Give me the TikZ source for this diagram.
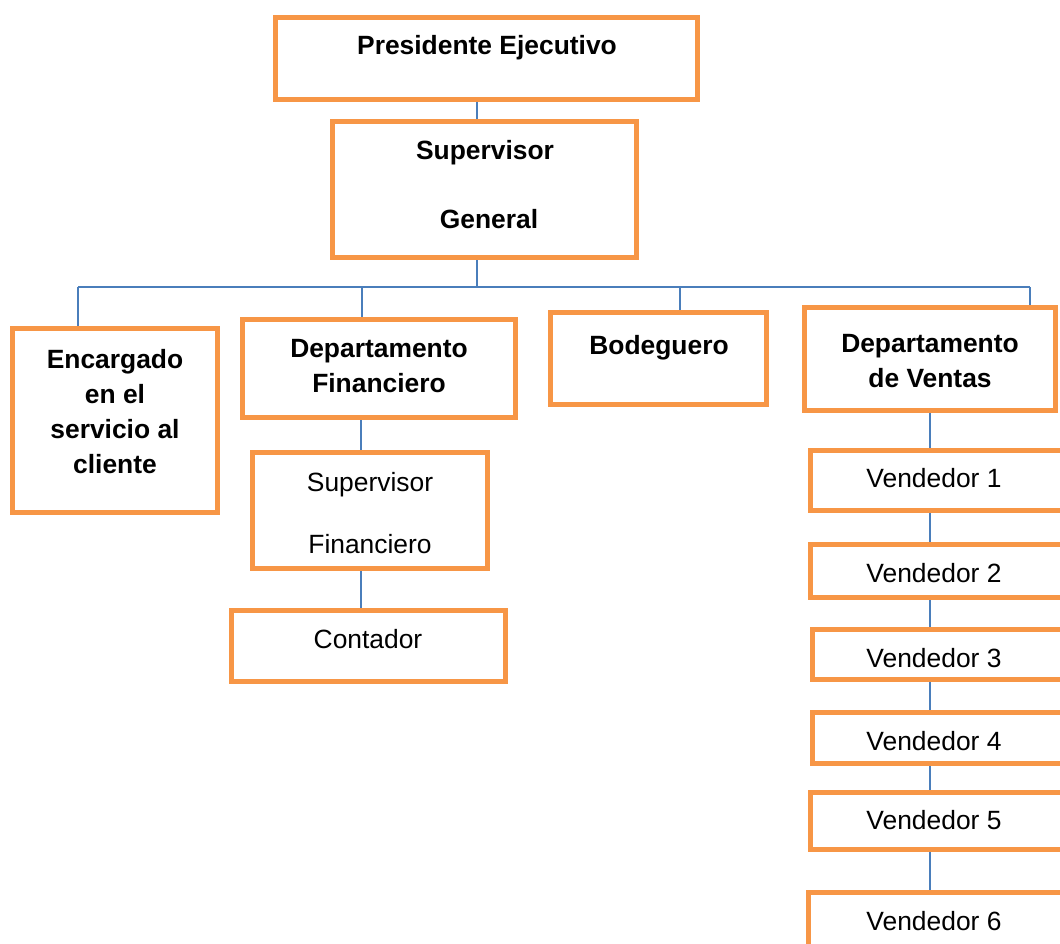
\documentclass[tikz,border=0pt]{standalone}
\usepackage{fontspec}
\setmainfont{Liberation Sans}
\definecolor{boxorange}{RGB}{247,150,70}
\definecolor{linkblue}{RGB}{74,126,187}
\tikzset{
  box/.style={draw=boxorange,line width=5pt,fill=white,rectangle},
  hd/.style={anchor=base,align=center,inner sep=0pt,font=\fontsize{26.4}{35}\selectfont\bfseries},
  tx/.style={anchor=base,align=center,inner sep=0pt,font=\fontsize{26.4}{35}\selectfont},
  link/.style={draw=linkblue,line width=1.5pt}
}
\begin{document}
\begin{tikzpicture}[x=1pt,y=-1pt]
\useasboundingbox (0,0) rectangle (1060,944);
\clip (0,0) rectangle (1060,944);
\node[box,minimum width=422pt,minimum height=82pt] (pres) at (486.5,58.5) {};
\node[box,minimum width=304pt,minimum height=136pt] (supgen) at (484.5,189.5) {};
\node[box,minimum width=205pt,minimum height=184pt] (enc) at (115,420.5) {};
\node[box,minimum width=273pt,minimum height=98pt] (dfin) at (379,368.5) {};
\node[box,minimum width=216pt,minimum height=92pt] (bod) at (658.5,358.5) {};
\node[box,minimum width=251pt,minimum height=103pt] (dven) at (930,359) {};
\node[box,minimum width=235pt,minimum height=116pt] (supfin) at (370,510.5) {};
\node[box,minimum width=274pt,minimum height=71pt] (cont) at (368.5,646) {};
\node[box,minimum width=255pt,minimum height=60pt] (v1) at (938,480.5) {};
\node[box,minimum width=255pt,minimum height=53pt] (v2) at (938,571) {};
\node[box,minimum width=253pt,minimum height=50pt] (v3) at (939,654.5) {};
\node[box,minimum width=253pt,minimum height=51pt] (v4) at (939,738) {};
\node[box,minimum width=255pt,minimum height=57pt] (v5) at (938,821) {};
\node[box,minimum width=257pt,minimum height=65pt] (v6) at (937,925) {};

% multi-line labels sit on the baseline of their last line
\node[hd] (pres-t) at (487,55) {Presidente Ejecutivo};
\node[hd] (supgen-t1) at (485,160) {Supervisor};
\node[hd] (supgen-t2) at (489,229) {General};
\node[hd] (enc-t) at (115,473) {Encargado\\en el\\servicio al\\cliente};
\node[hd] (dfin-t) at (379,392) {Departamento\\Financiero};
\node[hd] (bod-t) at (659,354) {Bodeguero};
\node[hd] (dven-t) at (930,387) {Departamento\\de Ventas};
\node[tx] (supfin-t1) at (370,491) {Supervisor};
\node[tx] (supfin-t2) at (370,553) {Financiero};
\node[tx] (cont-t) at (368,648) {Contador};
\foreach \n/\y in {1/487,2/582,3/667,4/750,5/829,6/930}
  \node[tx] (v\n-t) at (934,\y) {Vendedor \n};

\coordinate (b0) at (477,287);
\coordinate (b1) at (78,287);
\coordinate (b2) at (362,287);
\coordinate (b3) at (680,287);
\coordinate (b4) at (1030,287);
\coordinate (pf) at (361,0);
\coordinate (pv) at (930,0);
\draw[link] (pres.south -| b0) -- (supgen.north -| b0);
\draw[link] (supgen.south -| b0) -- (b0);
\draw[link] (b1) -- (b4);
\draw[link] (b1) -- (b1 |- enc.north);
\draw[link] (b2) -- (b2 |- dfin.north);
\draw[link] (b3) -- (b3 |- bod.north);
\draw[link] (b4) -- (b4 |- dven.north);
\draw[link] (dfin.south -| pf) -- (supfin.north -| pf);
\draw[link] (supfin.south -| pf) -- (cont.north -| pf);
\draw[link] (dven.south -| pv) -- (v1.north -| pv);
\foreach \a/\b in {v1/v2,v2/v3,v3/v4,v4/v5,v5/v6}
  \draw[link] (\a.south -| pv) -- (\b.north -| pv);
\end{tikzpicture}
\end{document}
